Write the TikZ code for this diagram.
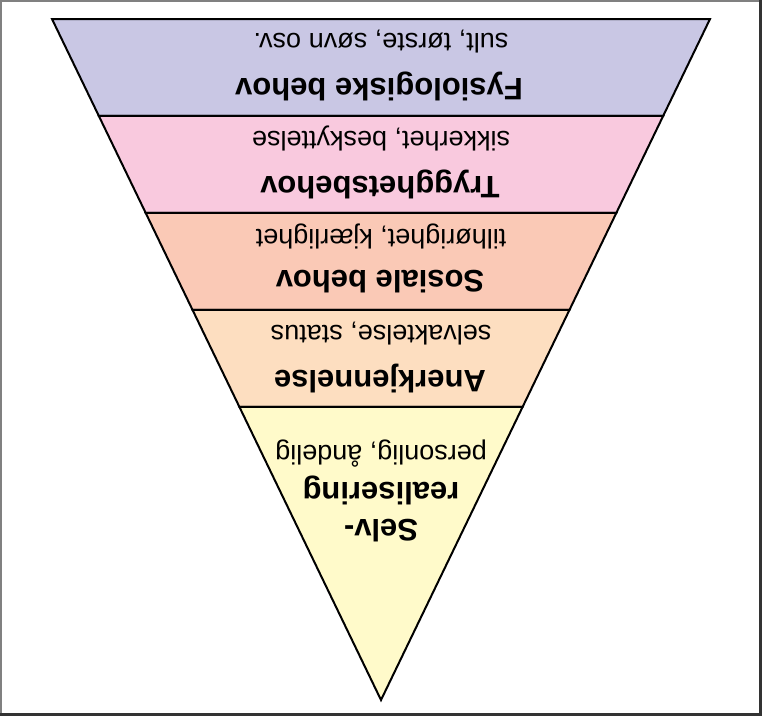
\documentclass[tikz,border=0pt]{standalone}
\usepackage{fontspec}
\setmainfont{Liberation Sans}
\usetikzlibrary{calc}

\definecolor{lagA}{RGB}{201,199,228}
\definecolor{lagB}{RGB}{249,201,222}
\definecolor{lagC}{RGB}{250,201,182}
\definecolor{lagD}{RGB}{253,222,192}
\definecolor{lagE}{RGB}{255,250,202}

\begin{document}
\begin{tikzpicture}[x=1pt,y=-1pt,
    lag/.style={draw=black, line width=2pt, line join=miter},
    tittel/.style={rotate=180, align=center, inner sep=0pt, font=\bfseries\fontsize{31}{37}\selectfont},
    under/.style={rotate=180, inner sep=0pt, font=\fontsize{27}{30}\selectfont}]
    \useasboundingbox (0,0) rectangle (762,716);

    % ramme rundt bildet
    \draw[gray, line width=1.5pt] (0.75,715) -- (0.75,0.75) -- (760,0.75);
    \draw[black!80, line width=3pt] (760.5,0) -- (760.5,714.5) -- (0,714.5);

    % hjorner i den omvendte pyramiden
    \coordinate (vt) at (52,19);
    \coordinate (ht) at (710,19);
    \coordinate (spiss) at (381,700);

    % lagene, ovenfra og ned
    \foreach \i/\farge in {0/lagA,1/lagB,2/lagC,3/lagD}
      {\pgfmathsetmacro{\ta}{0.1424*\i}
       \pgfmathsetmacro{\tb}{0.1424*(\i+1)}
       \filldraw[lag, fill=\farge] ($(vt)!\ta!(spiss)$) -- ($(ht)!\ta!(spiss)$)
         -- ($(ht)!\tb!(spiss)$) -- ($(vt)!\tb!(spiss)$) -- cycle;}
    \filldraw[lag, fill=lagE] ($(vt)!0.5696!(spiss)$) -- ($(ht)!0.5696!(spiss)$) -- (spiss) -- cycle;

    % tekst, snudd opp ned
    \node[tittel] (t1) at (379,86) {Fysiologiske behov};
    \node[under]  (u1) at (381,42) {sult, tørste, søvn osv.};
    \node[tittel] (t2) at (380,184) {Trygghetsbehov};
    \node[under]  (u2) at (381,138) {sikkerhet, beskyttelse};
    \node[tittel] (t3) at (380,282) {Sosiale behov};
    \node[under]  (u3) at (381,236) {tilhørighet, kjærlighet};
    \node[tittel] (t4) at (380,379) {Anerkjennelse};
    \node[under]  (u4) at (381,334) {selvaktelse, status};
    \node[tittel] (t5) at (381,509) {Selv-\\realisering};
    \node[under]  (u5) at (381,454) {personlig, åndelig};
\end{tikzpicture}
\end{document}
